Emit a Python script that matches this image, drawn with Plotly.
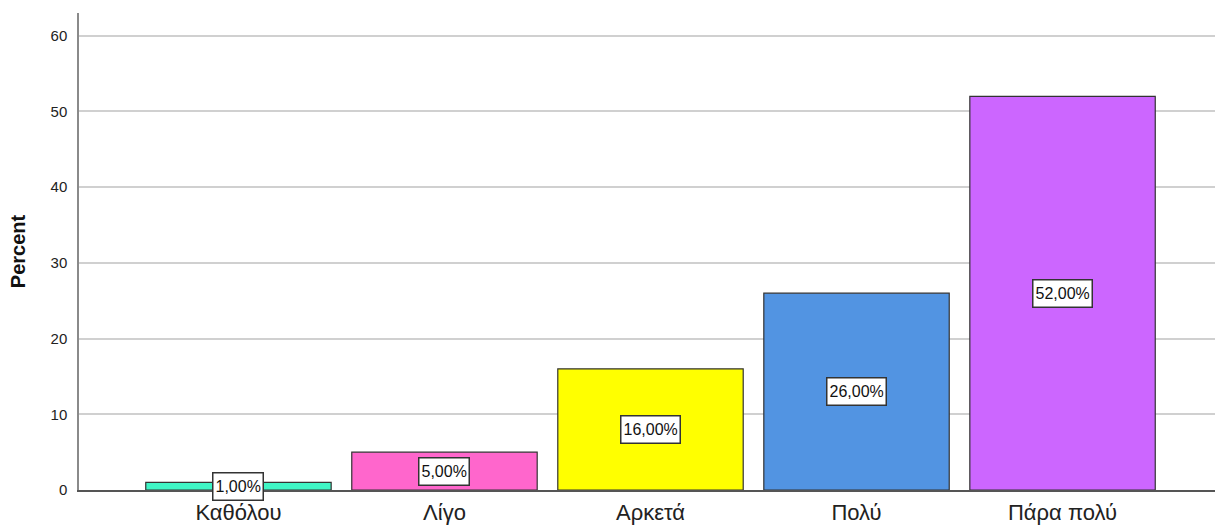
import plotly.graph_objects as go

# Response categories and their percentages
categories = ["Καθόλου", "Λίγο", "Αρκετά", "Πολύ", "Πάρα πολύ"]
percent = [1.0, 5.0, 16.0, 26.0, 52.0]
bar_colors = ["#3ff5c5", "#ff66cc", "#ffff00", "#5294e2", "#cc66ff"]
y_ticks = [0, 10, 20, 30, 40, 50, 60]

FONT = "Liberation Sans, Arial, sans-serif"

fig = go.Figure()
fig.add_trace(go.Bar(
    x=categories,
    y=percent,
    width=0.9,
    marker=dict(color=bar_colors, line=dict(color="#333333", width=1.2)),
    hoverinfo="skip",
))

# Boxed value labels centred on each bar
for cat, val in zip(categories, percent):
    fig.add_annotation(
        x=cat, y=val / 2, xref="x", yref="y",
        text=f"{val:.2f}".replace(".", ",") + "%",
        showarrow=False,
        font=dict(family=FONT, size=16, color="#111111"),
        height=22,
        bgcolor="white", bordercolor="#333333", borderwidth=1.5, borderpad=2,
    )

fig.update_layout(
    width=1215, height=525,
    margin=dict(l=79, r=0, t=13, b=35, autoexpand=False),
    plot_bgcolor="white", paper_bgcolor="white",
    showlegend=False,
    bargap=0.1,
    xaxis=dict(
        type="category",
        range=[-0.774, 4.74],
        showgrid=False,
        showline=True, linecolor="#555555", linewidth=1.5,
        ticks="", ticklabelstandoff=2,
        tickfont=dict(family=FONT, size=22, color="#222222"),
        automargin=False,
    ),
    yaxis=dict(
        range=[0, 63],
        tickvals=y_ticks,
        showgrid=True, gridcolor="#d0d0d0", gridwidth=1.5,
        zeroline=False,
        showline=True, linecolor="#8a8a8a", linewidth=1.5,
        ticks="", ticklabelstandoff=7,
        tickfont=dict(family=FONT, size=15, color="#222222"),
        title=dict(text="<b>Percent</b>", standoff=20,
                   font=dict(family=FONT, size=20, color="#111111")),
        automargin=False,
    ),
)

fig.write_html("out.html")
